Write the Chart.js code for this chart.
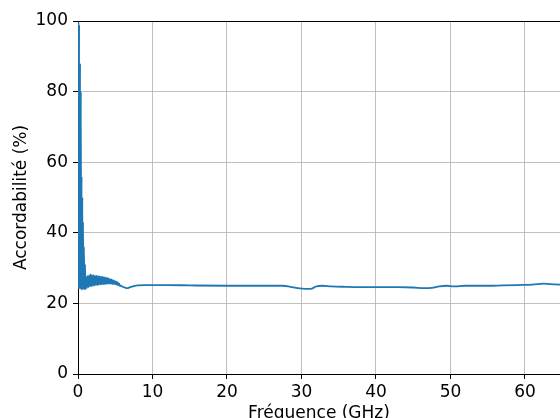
<!DOCTYPE html>
<html><head><meta charset="utf-8">
<script src="https://cdn.jsdelivr.net/npm/chart.js@4/dist/chart.umd.min.js"></script>
<style>html,body{margin:0;padding:0;background:#fff;overflow:hidden}#wrap{width:560px;height:418px}</style>
</head><body><div id="wrap"><canvas id="c" width="560" height="418"></canvas></div>
<script>
const freqGHz = [0.02,0.05,0.1,0.15,0.2,0.28,0.32,0.38,0.42,0.48,0.52,0.58,0.62,0.68,0.72,0.8,0.85,0.95,
  1.0,1.1,1.2,1.3,1.4,1.5,1.6,1.7,1.8,1.9,2.0,2.1,2.2,2.3,2.4,2.5,2.6,2.7,2.8,2.9,3.0,3.1,3.2,3.3,3.4,3.5,3.6,3.7,3.8,3.9,
  4.0,4.1,4.2,4.3,4.4,4.5,4.6,4.7,4.8,4.9,5.0,5.1,5.2,5.3,5.4,5.5,5.6,5.8,
  6.0,6.3,6.6,7.0,7.5,8.0,9.0,12,15,20,25,27.5,28.5,29.5,30.5,31.2,32,32.8,34,36,40,43,45,46.5,47.5,48.5,49.5,50.5,52,55,57,59,61,62.5,64,65];
const accordPct = [30,100,24,99,25,88,24,80,24,56,23.8,50,24,43,24,36,24,31,
  24.0,27.5,24.4,27.8,24.6,28.0,24.8,28.2,24.9,28.0,25.0,27.9,25.1,27.8,25.2,27.8,25.2,27.7,25.3,27.6,25.4,27.6,25.4,27.5,25.5,27.4,25.5,27.3,25.6,27.2,
  25.6,27.1,25.6,26.9,25.6,26.8,25.5,26.6,25.5,26.4,25.4,26.2,25.3,26.0,25.2,25.7,25.0,25.0,
  24.7,24.5,24.3,24.6,24.9,25.1,25.2,25.2,25.1,25.0,25.0,25.0,24.7,24.3,24.1,24.1,24.8,25.0,24.8,24.7,24.6,24.6,24.5,24.3,24.4,24.8,25.0,24.8,25.0,25.0,25.1,25.2,25.3,25.6,25.4,25.3];
const xTicks = [0,10,20,30,40,50,60];
const yTicks = [0,20,40,60,80,100];

const FONT = {family:'"DejaVu Sans"', size:17};
const spines = {
  id:'spines',
  afterDraw(chart){
    const {ctx, chartArea:a} = chart;
    ctx.save();
    ctx.strokeStyle = '#000'; ctx.lineWidth = 1;
    ctx.beginPath();
    ctx.moveTo(a.left, a.top+0.5); ctx.lineTo(a.right, a.top+0.5);
    ctx.stroke();
    ctx.restore();
  }
};
new Chart(document.getElementById('c'), {
  type:'line',
  data:{datasets:[{data: freqGHz.map((x,i)=>({x, y: accordPct[i]})), borderColor:'#1f77b4', borderWidth:1.8, pointRadius:0, cubicInterpolationMode:'monotone', fill:false}]},
  options:{
    responsive:false, animation:false, maintainAspectRatio:false,
    layout:{padding:{left:0,right:0,top:21,bottom:0}},
    plugins:{legend:{display:false}, tooltip:{enabled:false}},
    scales:{
      x:{type:'linear', min:0, max:64.7,
        afterBuildTicks(s){ s.ticks = xTicks.map(v=>({value:v})); },
        afterFit(s){ s.height = 44; },
        grid:{color:'#b0b0b0', lineWidth:0.8, tickLength:5, tickColor:'#000', tickWidth:1},
        border:{color:'#000', width:1},
        ticks:{color:'#000', font:FONT, padding:3, maxRotation:0, autoSkip:false},
        title:{display:true, text:'Fréquence (GHz)', color:'#000', font:FONT, padding:{top:0,bottom:-6}}
      },
      y:{min:0, max:100,
        afterBuildTicks(s){ s.ticks = yTicks.map(v=>({value:v})); },
        afterFit(s){ s.width = 78; },
        grid:{color:'#b0b0b0', lineWidth:0.8, tickLength:5, tickColor:'#000', tickWidth:1},
        border:{color:'#000', width:1},
        ticks:{color:'#000', font:FONT, padding:5},
        title:{display:true, text:'Accordabilité (%)', color:'#000', font:FONT, padding:{top:11,bottom:0}}
      }
    }
  },
  plugins:[spines]
});
</script></body></html>
